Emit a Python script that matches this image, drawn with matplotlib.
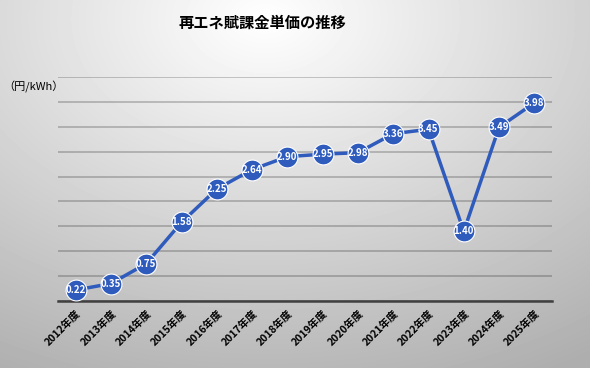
import numpy as np
import matplotlib
matplotlib.use('Agg')
import matplotlib.pyplot as plt

plt.rcParams['font.family'] = ['Noto Sans CJK JP', 'DejaVu Sans']

years = ['2012年度', '2013年度', '2014年度', '2015年度', '2016年度', '2017年度', '2018年度',
         '2019年度', '2020年度', '2021年度', '2022年度', '2023年度', '2024年度', '2025年度']
prices = [0.22, 0.35, 0.75, 1.58, 2.25, 2.64, 2.90, 2.95, 2.98, 3.36, 3.45, 1.40, 3.49, 3.98]

blue = '#2f5bbd'

fig = plt.figure(figsize=(5.9, 3.68), dpi=100)

# radial grey background, light at top centre
bg = fig.add_axes([0, 0, 1, 1])
yy, xx = np.mgrid[0:1:368j, 0:1:590j]
r = np.sqrt(((xx - 0.45) / 1.0) ** 2 + ((yy - 0.05) / 1.1) ** 2)
shade = 1.0 - 0.32 * np.clip(r, 0, 1)
bg.imshow(shade, cmap='gray', vmin=0, vmax=1, aspect='auto', extent=[0, 1, 1, 0])
bg.axis('off')

ax = fig.add_axes([58 / 590, 1 - 301 / 368, 494 / 590, 224 / 368])
ax.patch.set_alpha(0)

x = np.arange(len(years))
ax.plot(x, prices, color=blue, lw=2.5, marker='o', ms=15, mfc=blue, mec='white', mew=0.8, zorder=3)
for xi, v in zip(x, prices):
    ax.text(xi, v, f'{v:.2f}', ha='center', va='center', color='white',
            fontsize=7, fontweight='bold', zorder=4)

ax.set_xlim(-0.5, len(years) - 0.5)
ax.set_ylim(0, 4.5)
ax.set_yticks(np.arange(0, 4.51, 0.5))
ax.yaxis.grid(True, color='black', alpha=0.22, lw=1.3)
ax.set_axisbelow(True)
ax.tick_params(axis='y', length=0, labelleft=False)
ax.set_xticks(x)
ax.set_xticklabels(years, rotation=45, ha='right', rotation_mode='anchor',
                   fontsize=7.5, fontweight='bold')
ax.tick_params(axis='x', length=0, pad=5)
for s in ['top', 'right', 'left']:
    ax.spines[s].set_visible(False)
ax.spines['bottom'].set_color('#404040')
ax.spines['bottom'].set_linewidth(1.8)

fig.text(262 / 590, 1 - 23 / 368, '再エネ賦課金単価の推移', ha='center', va='center',
         fontsize=11, fontweight='bold')
fig.text(3 / 590, 1 - 87 / 368, '（円/kWh）', ha='left', va='center', fontsize=8)

fig.savefig('out.png', dpi=100)
